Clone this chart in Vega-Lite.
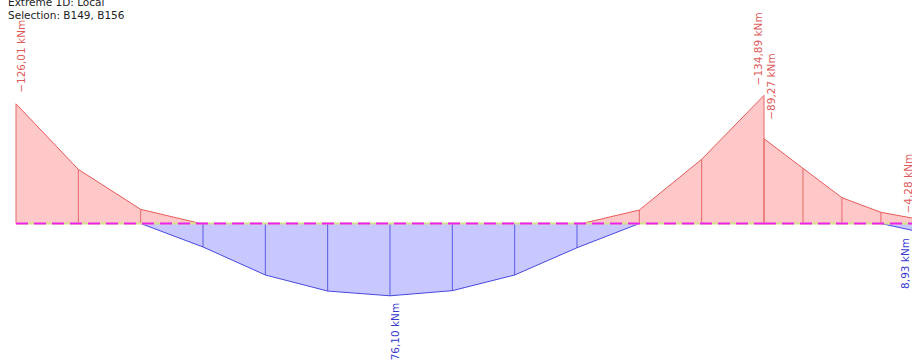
{
  "$schema": "https://vega.github.io/schema/vega-lite/v6.json",
  "width": 912,
  "height": 364,
  "autosize": {"type": "none"},
  "padding": 0,
  "background": "white",
  "config": {"view": {"stroke": null}},
  "title": {
    "text": "Extreme 1D: Local",
    "subtitle": "Selection: B149, B156",
    "anchor": "start",
    "frame": "group",
    "orient": "top",
    "offset": -21,
    "dx": 8,
    "font": "DejaVu Sans",
    "fontSize": 10.5,
    "fontWeight": "normal",
    "color": "#1e1e1e",
    "subtitleFont": "DejaVu Sans",
    "subtitleFontSize": 10.5,
    "subtitleColor": "#1e1e1e",
    "subtitlePadding": 2
  },
  "data": {
    "values": [
      {"member": "B149", "env": "beam", "seg": "f", "x": 0, "m": 0},
      {"member": "B149", "env": "beam", "seg": "f", "x": 6, "m": 0},
      {"member": "B156", "env": "beam", "seg": "g", "x": 6, "m": 0},
      {"member": "B156", "env": "beam", "seg": "g", "x": 7.25, "m": 0},
      {"member": "B149", "env": "neg", "seg": "a", "x": 0, "m": -126.01, "label": "−126,01 kNm"},
      {"member": "B149", "env": "neg", "seg": "a", "x": 0.5, "m": -57.0},
      {"member": "B149", "env": "neg", "seg": "a", "x": 1.0, "m": -14.9},
      {"member": "B149", "env": "neg", "seg": "a", "x": 1.48, "m": 0},
      {"member": "B149", "env": "neg", "seg": "b", "x": 4.54, "m": 0},
      {"member": "B149", "env": "neg", "seg": "b", "x": 5.0, "m": -14.2},
      {"member": "B149", "env": "neg", "seg": "b", "x": 5.5, "m": -67.6},
      {"member": "B149", "env": "neg", "seg": "b", "x": 6.0, "m": -134.89, "label": "−134,89 kNm"},
      {"member": "B156", "env": "neg", "seg": "c", "x": 6.0, "m": -89.27, "label": "−89,27 kNm"},
      {"member": "B156", "env": "neg", "seg": "c", "x": 6.3125, "m": -58.1},
      {"member": "B156", "env": "neg", "seg": "c", "x": 6.625, "m": -27.2},
      {"member": "B156", "env": "neg", "seg": "c", "x": 6.9375, "m": -11.8},
      {"member": "B156", "env": "neg", "seg": "c", "x": 7.25, "m": -4.28, "label": "−4,28 kNm"},
      {"member": "B149", "env": "pos", "seg": "d", "x": 1.0, "m": 0},
      {"member": "B149", "env": "pos", "seg": "d", "x": 1.5, "m": 24.7},
      {"member": "B149", "env": "pos", "seg": "d", "x": 2.0, "m": 54.2},
      {"member": "B149", "env": "pos", "seg": "d", "x": 2.5, "m": 71.1},
      {"member": "B149", "env": "pos", "seg": "d", "x": 3.0, "m": 76.10, "label": "76,10 kNm"},
      {"member": "B149", "env": "pos", "seg": "d", "x": 3.5, "m": 70.7},
      {"member": "B149", "env": "pos", "seg": "d", "x": 4.0, "m": 54.2},
      {"member": "B149", "env": "pos", "seg": "d", "x": 4.5, "m": 25.5},
      {"member": "B149", "env": "pos", "seg": "d", "x": 5.0, "m": 0},
      {"member": "B156", "env": "pos", "seg": "e", "x": 6.9375, "m": 0},
      {"member": "B156", "env": "pos", "seg": "e", "x": 7.25, "m": 8.93, "label": "8,93 kNm"}
    ]
  },
  "encoding": {
    "x": {"field": "x", "type": "quantitative", "scale": {"domain": [-0.1283, 7.187], "nice": false, "zero": false}, "axis": null},
    "y": {"field": "m", "type": "quantitative", "scale": {"domain": [-235.3, 147.9], "nice": false, "zero": false, "reverse": true}, "axis": null}
  },
  "layer": [
    {
      "transform": [{"filter": "datum.env == 'neg'"}],
      "mark": {"type": "area", "color": "#ffc8c8", "opacity": 1, "clip": true},
      "encoding": {"y2": {"datum": 0}, "detail": {"field": "seg"}}
    },
    {
      "transform": [{"filter": "datum.env == 'pos'"}],
      "mark": {"type": "area", "color": "#c8c8ff", "opacity": 1, "clip": true},
      "encoding": {"y2": {"datum": 0}, "detail": {"field": "seg"}}
    },
    {
      "transform": [{"filter": "datum.env == 'neg' && datum.m != 0"}],
      "mark": {"type": "rule", "color": "#e66a6a", "strokeWidth": 1, "clip": true},
      "encoding": {"y2": {"datum": 0}}
    },
    {
      "transform": [{"filter": "datum.env == 'pos' && datum.m != 0"}],
      "mark": {"type": "rule", "color": "#5a5ae0", "strokeWidth": 1, "clip": true},
      "encoding": {"y2": {"datum": 0}}
    },
    {
      "transform": [{"filter": "datum.env == 'neg'"}],
      "mark": {"type": "line", "color": "#e85a5a", "strokeWidth": 1, "clip": true},
      "encoding": {"detail": {"field": "seg"}}
    },
    {
      "transform": [{"filter": "datum.env == 'pos'"}],
      "mark": {"type": "line", "color": "#4848e0", "strokeWidth": 1, "clip": true},
      "encoding": {"detail": {"field": "seg"}}
    },
    {
      "transform": [{"filter": "datum.env == 'beam'"}],
      "mark": {"type": "line", "color": "#d4e08c", "strokeWidth": 2, "clip": true},
      "encoding": {"detail": {"field": "seg"}}
    },
    {
      "transform": [{"filter": "datum.env == 'beam'"}],
      "mark": {"type": "line", "color": "#f020f0", "strokeWidth": 2, "strokeDash": [12, 6], "clip": true},
      "encoding": {"detail": {"field": "seg"}}
    },
    {
      "transform": [{"filter": "datum.label && datum.x == 0"}],
      "mark": {"type": "text", "angle": 270, "align": "left", "baseline": "top", "dx": 11, "dy": 1, "font": "DejaVu Sans", "fontSize": 10.5, "color": "#e05a5a"},
      "encoding": {"text": {"field": "label"}}
    },
    {
      "transform": [{"filter": "datum.label && datum.member == 'B149' && datum.x == 6"}],
      "mark": {"type": "text", "angle": 270, "align": "left", "baseline": "bottom", "dx": 10, "dy": 0, "font": "DejaVu Sans", "fontSize": 10.5, "color": "#e05a5a"},
      "encoding": {"text": {"field": "label"}}
    },
    {
      "transform": [{"filter": "datum.label && datum.member == 'B156' && datum.x == 6"}],
      "mark": {"type": "text", "angle": 270, "align": "left", "baseline": "top", "dx": 19, "dy": 3, "font": "DejaVu Sans", "fontSize": 10.5, "color": "#e05a5a"},
      "encoding": {"text": {"field": "label"}}
    },
    {
      "transform": [{"filter": "datum.label && datum.env == 'pos' && datum.x == 3"}],
      "mark": {"type": "text", "angle": 270, "align": "right", "baseline": "top", "dx": -7, "dy": 1, "font": "DejaVu Sans", "fontSize": 10.5, "color": "#3a3ad0"},
      "encoding": {"text": {"field": "label"}}
    },
    {
      "transform": [{"filter": "datum.label && datum.env == 'neg' && datum.x == 7.25"}],
      "mark": {"type": "text", "angle": 270, "align": "left", "baseline": "bottom", "dx": 6, "dy": -6, "font": "DejaVu Sans", "fontSize": 10.5, "color": "#e05a5a"},
      "encoding": {"text": {"field": "label"}}
    },
    {
      "transform": [{"filter": "datum.label && datum.env == 'pos' && datum.x == 7.25"}],
      "mark": {"type": "text", "angle": 270, "align": "right", "baseline": "bottom", "dx": -6, "dy": -9, "font": "DejaVu Sans", "fontSize": 10.5, "color": "#3a3ad0"},
      "encoding": {"text": {"field": "label"}}
    }
  ]
}
